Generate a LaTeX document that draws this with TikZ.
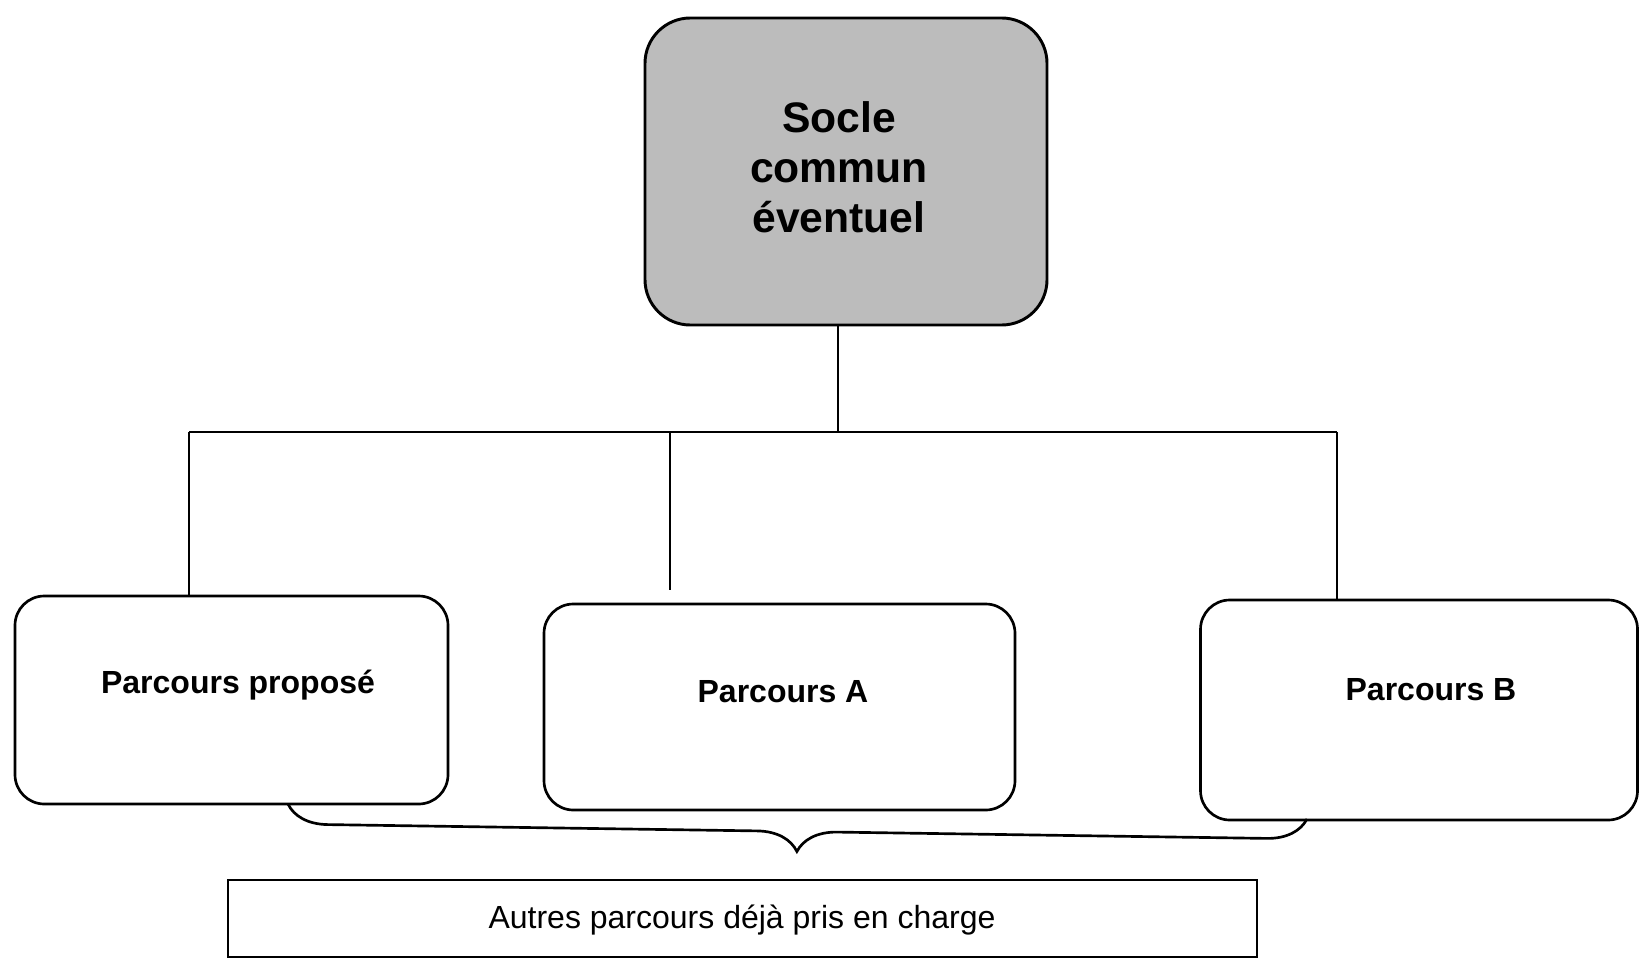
\documentclass[tikz,border=0pt]{standalone}
\usepackage{fontspec}
\setmainfont{Liberation Sans}
\usetikzlibrary{calc,decorations.pathreplacing}
\definecolor{soclegray}{RGB}{188,188,188}
\tikzset{
  box/.style={draw=black, line width=2pt, rounded corners=22pt, inner sep=0pt, fill=white},
  topbox/.style={draw=black, line width=2.2pt, rounded corners=34pt, inner sep=0pt, fill=soclegray},
  plainbox/.style={draw=black, line width=2pt, inner sep=0pt, fill=white},
  conn/.style={draw=black, line width=1.5pt},
  bigtxt/.style={font=\fontsize{32}{37.5}\selectfont\bfseries, align=center, inner sep=0pt},
  midtxt/.style={font=\fontsize{24}{29}\selectfont\bfseries, inner sep=0pt},
  regtxt/.style={font=\fontsize{24}{29}\selectfont, inner sep=0pt},
  bracestyle/.style={draw=black, line width=2pt, decorate, decoration={brace, mirror, amplitude=30pt}}
}
\begin{document}
\begin{tikzpicture}[x=0.75pt, y=-0.75pt]
\useasboundingbox[fill=white] (0,0) rectangle (1640,963);
% top box
\node[topbox, minimum width=301.5pt, minimum height=230.25pt] (T) at (846,171.5) {};
\node[bigtxt] (tT) at (839,167) {Socle\\commun\\éventuel};
% lower boxes
\node[box, minimum width=324.75pt, minimum height=156pt] (L) at (231.5,700) {};
\node[midtxt] (tL) at (238,685) {Parcours proposé};
\node[box, minimum width=353.25pt, minimum height=154.5pt] (A) at (779.5,707) {};
\node[midtxt] (tA) at (783,692) {Parcours A};
\node[box, minimum width=327.75pt, minimum height=165pt] (B) at (1419,710) {};
\node[midtxt] (tB) at (1431,690) {Parcours B};
% bottom box
\node[plainbox, minimum width=771.75pt, minimum height=57.75pt] (P) at (742.5,918.5) {};
\node[regtxt] (tP) at (742,920) {Autres parcours déjà pris en charge};
% bus
\coordinate (bl) at (189,432);
\coordinate (bm) at (670,432);
\coordinate (br) at (1337,432);
\coordinate (bt) at ($(T.south)+(-8,0)$);
\draw[conn] (bl) -- (br);
\draw[conn] (bt) -- (bt |- bl);
\draw[conn] (bl) -- (bl |- L.north);
\draw[conn] (bm) -- ($(bm |- A.north)+(0,-13)$);
\draw[conn] (br) -- (br |- B.north);
% brace
\coordinate (brL) at (288,804);
\coordinate (brR) at (1307,819);
\draw[bracestyle] (brL) -- (brR);
\end{tikzpicture}
\end{document}
